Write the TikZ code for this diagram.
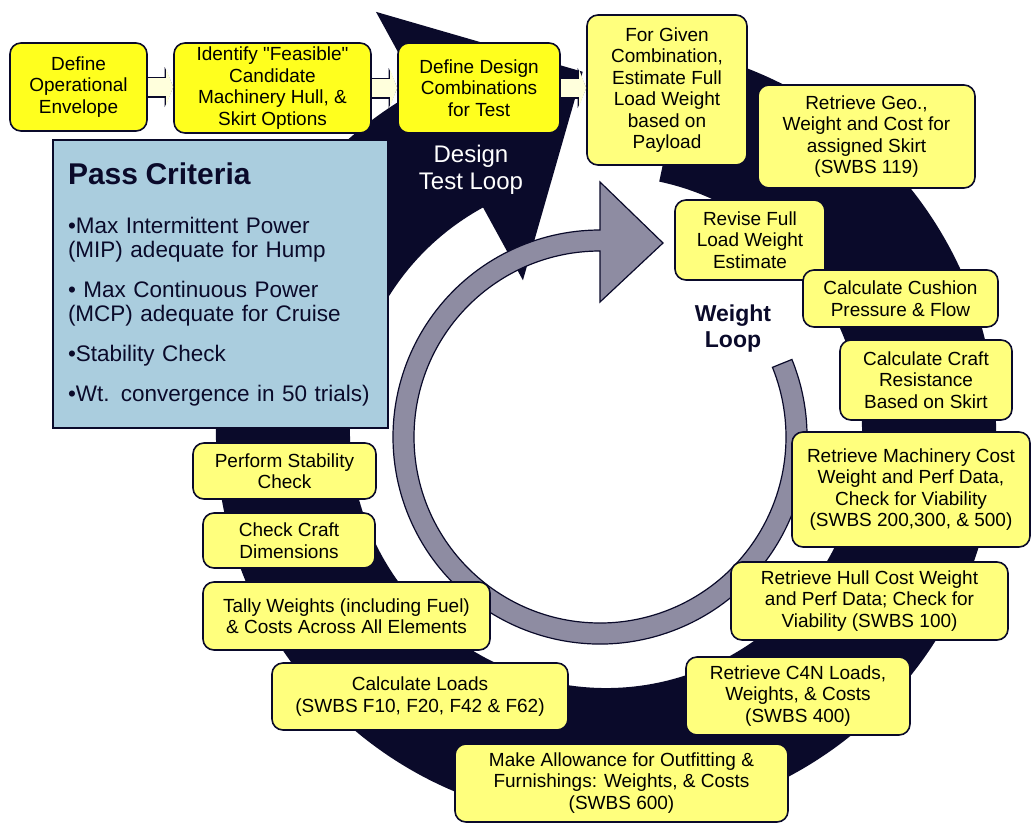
\documentclass[tikz,border=0pt]{standalone}
\usepackage{fontspec}
\setmainfont{Liberation Sans}
\usetikzlibrary{arrows.meta}

\definecolor{loopnavy}{RGB}{10,10,42}
\definecolor{loopgray}{RGB}{142,140,162}
\definecolor{setupyellow}{RGB}{255,255,30}
\definecolor{taskyellow}{RGB}{255,255,125}
\definecolor{passblue}{RGB}{170,205,222}
\definecolor{cream}{RGB}{255,255,220}

\tikzset{
  taskbox/.style={draw=loopnavy, line width=1.6pt, rounded corners=11pt, fill=taskyellow,
    align=center, inner sep=2pt, font=\fontsize{19}{21.5}\selectfont},
  setupbox/.style={taskbox, fill=setupyellow},
  passbox/.style={draw=loopnavy, line width=1.6pt, fill=passblue, text=loopnavy,
    minimum width=335pt, minimum height=288pt, text width=305pt, inner xsep=15pt,
    align=left, font=\fontsize{22.5}{24}\selectfont},
  flowarrow/.style={draw=cream, line width=18pt,
    -{Triangle[length=7pt, width=36pt, line width=0pt]},
    preaction={draw=loopnavy, line width=21pt, -{Triangle[length=8.5pt, width=40pt, line width=0pt]}}},
}

\begin{document}
\begin{tikzpicture}[x=1pt, y=1pt]
\fill[white] (0,0) rectangle (1033,-825);
\useasboundingbox (0,0) rectangle (1033,-825);

% design test loop
\begin{scope}[shift={(606,-432)}]
  \fill[loopnavy] (78:390) arc[start angle=78, end angle=-241.3, radius=390]
    -- (118.7:479) -- (93.7:361) -- (118.7:173) -- (118.7:256)
    arc[start angle=-241.3, end angle=78, radius=256] -- cycle;
\end{scope}

% weight loop
\begin{scope}[shift={(600,-437)}]
  \filldraw[loopgray, draw=loopnavy, line width=1.2pt] (22:207) arc[start angle=22, end angle=-270, radius=207]
    -- (0,255) -- (63,194) -- (0,135) -- (0,186)
    arc[start angle=90, end angle=382, radius=186] -- cycle;
\end{scope}

\node[text=white, align=center, font=\fontsize{24}{27}\selectfont] (testlbl) at (471,-170) {Design\\Test Loop};
\node[text=loopnavy, align=center, font=\fontsize{23}{26}\selectfont\bfseries] (wtlbl) at (733,-329) {Weight\\Loop};

% pass criteria
\node[passbox] (pass) at (220.5,-284) {{\fontsize{30}{36}\selectfont\bfseries Pass Criteria\par}\vspace{25pt}%
•Max Intermittent Power\\(MIP) adequate for Hump\\[16pt]
• Max Continuous Power\\(MCP) adequate for Cruise\\[16pt]
•Stability Check\\[16pt]
•Wt. convergence in 50 trials)};

% setup steps
\node[setupbox, minimum width=137pt, minimum height=88pt] (op) at (78.5,-87) {Define\\Operational\\Envelope};
\node[setupbox, minimum width=197pt, minimum height=90pt] (feas) at (272.5,-88) {Identify \textquotedbl Feasible\textquotedbl\\Candidate\\Machinery Hull, \&\\Skirt Options};
\node[setupbox, minimum width=162pt, minimum height=90pt] (combo) at (479,-88) {Define Design\\Combinations\\for Test};

% weight loop steps
\node[taskbox, minimum width=160pt, minimum height=150pt] (given) at (667,-90) {For Given\\Combination,\\Estimate Full\\Load Weight\\based on\\Payload};
\node[taskbox, minimum width=217pt, minimum height=103pt] (skirt) at (866.5,-136.5) {Retrieve Geo.,\\Weight and Cost for\\assigned Skirt\\(SWBS 119)};
\node[taskbox, minimum width=150pt, minimum height=80pt] (revise) at (750,-240) {Revise Full\\Load Weight\\Estimate};
\node[taskbox, minimum width=195pt, minimum height=57pt] (cushion) at (900.5,-298.5) {Calculate Cushion\\Pressure \& Flow};
\node[taskbox, minimum width=172pt, minimum height=80pt] (resist) at (926,-380) {Calculate Craft\\Resistance\\Based on Skirt};
\node[taskbox, minimum width=238pt, minimum height=115pt] (mach) at (911,-489.5) {Retrieve Machinery Cost\\Weight and Perf Data,\\Check for Viability\\(SWBS 200,300, \& 500)};
\node[taskbox, minimum width=277pt, minimum height=78pt] (hull) at (869.5,-601) {Retrieve Hull Cost Weight\\and Perf Data; Check for\\Viability (SWBS 100)};
\node[taskbox, minimum width=224pt, minimum height=78pt] (cfour) at (798,-696) {Retrieve C4N Loads,\\Weights, \& Costs\\(SWBS 400)};
\node[taskbox, minimum width=333pt, minimum height=78pt] (outfit) at (621.5,-783) {Make Allowance for Outfitting \&\\Furnishings: Weights, \& Costs\\(SWBS 600)};
\node[taskbox, minimum width=296pt, minimum height=67pt] (loads) at (420,-696.5) {Calculate Loads\\(SWBS F10, F20, F42 \& F62)};
\node[taskbox, minimum width=287pt, minimum height=68pt] (tally) at (346.5,-616) {Tally Weights (including Fuel)\\\& Costs Across All Elements};
\node[taskbox, minimum width=172pt, minimum height=55pt] (dims) at (289,-540.5) {Check Craft\\Dimensions};
\node[taskbox, minimum width=183pt, minimum height=56pt] (stab) at (284.5,-471) {Perform Stability\\Check};

% flow between setup steps
\draw[flowarrow] (op.east) -- (op.east -| feas.west);
\draw[flowarrow] (feas.east) -- (feas.east -| combo.west);
\draw[flowarrow] (combo.east) -- (combo.east -| given.west);
\end{tikzpicture}
\end{document}
